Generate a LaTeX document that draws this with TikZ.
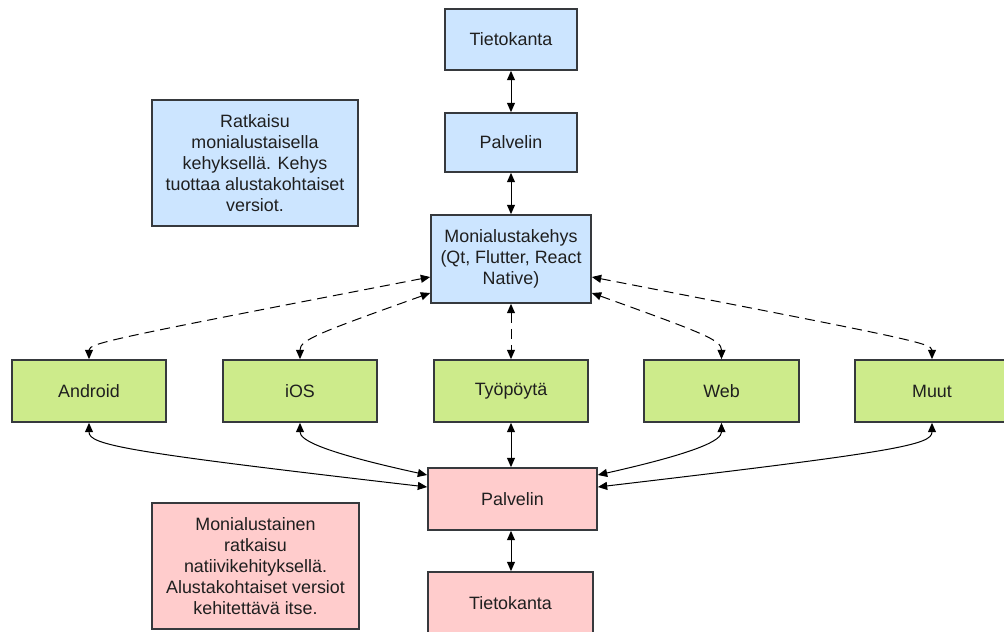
\documentclass[tikz,border=0pt]{standalone}
\usepackage{fontspec}
\setmainfont{Liberation Sans}
\usetikzlibrary{arrows.meta}
\definecolor{bluefill}{HTML}{CCE5FF}
\definecolor{greenfill}{HTML}{CDEB8B}
\definecolor{pinkfill}{HTML}{FFCCCC}
\definecolor{edgegray}{HTML}{36393D}
\begin{document}
\begin{tikzpicture}[x=0.75pt,y=-0.75pt,
  box/.style={draw=edgegray, line width=1.3pt, align=center, inner sep=2pt,
    font=\fontsize{13.4}{15.75}\selectfont, text=black!88},
  bluebox/.style={box, fill=bluefill},
  greenbox/.style={box, fill=greenfill, minimum width=116pt, minimum height=46.5pt},
  pinkbox/.style={box, fill=pinkfill},
  conn/.style={line width=0.75pt, {Triangle[length=7pt,width=6pt]}-{Triangle[length=7pt,width=6pt]}},
  dconn/.style={conn, dash pattern=on 7.5pt off 4.5pt}]
\useasboundingbox (0,0) rectangle (1004,632);

% top (blue) stack
\node[bluebox, minimum width=99pt, minimum height=45.75pt] (db1) at (511,39.5) {Tietokanta};
\node[bluebox, minimum width=99pt, minimum height=44.25pt] (srv1) at (511,142.5) {Palvelin};
\node[bluebox, minimum width=120pt, minimum height=66pt] (mon) at (511,259) {Monialustakehys\\(Qt, Flutter, React\\Native)};
\node[bluebox, minimum width=154.5pt, minimum height=94.5pt] (note1) at (255,163) {Ratkaisu\\monialustaisella\\kehyksellä. Kehys\\tuottaa alustakohtaiset\\versiot.};

% platforms
\node[greenbox] (android) at (89,391) {Android};
\node[greenbox] (ios) at (300,391) {iOS};
\node[greenbox] (desk) at (511,391) {Työpöytä};
\node[greenbox] (web) at (721.5,391) {Web};
\node[greenbox] (muut) at (932,391) {Muut};

% bottom (pink) stack
\node[pinkbox, minimum width=126.75pt, minimum height=46.5pt] (srv2) at (512.5,499) {Palvelin};
\node[pinkbox, minimum width=123.75pt, minimum height=46.5pt] (db2) at (510.5,603) {Tietokanta};
\node[pinkbox, minimum width=155pt, minimum height=94.5pt] (note2) at (255.5,566) {Monialustainen\\ratkaisu\\natiivikehityksellä.\\Alustakohtaiset versiot\\kehitettävä itse.};

% top connectors
\draw[conn] (db1.south) -- (srv1.north);
\draw[conn] (srv1.south) -- (mon.north);

% dashed connectors
\draw[dconn] ([yshift=-13.5pt]mon.west) .. controls (115,338) and (89,343) .. (android.north);
\draw[dconn] ([yshift=-25.5pt]mon.west) .. controls (318,333) and (300,340) .. (ios.north);
\draw[dconn] (mon.south) -- (desk.north);
\draw[dconn] ([yshift=-25.5pt]mon.east) .. controls (703,333) and (721.5,340) .. (web.north);
\draw[dconn] ([yshift=-13.5pt]mon.east) .. controls (905,338) and (932,343) .. (muut.north);

% solid connectors
\draw[conn] ([yshift=9pt]srv2.west) .. controls (125,452) and (89,445) .. (android.south);
\draw[conn] ([yshift=18pt]srv2.west) .. controls (322,452) and (300,440) .. (ios.south);
\draw[conn] (desk.south) -- (desk.south |- srv2.north);
\draw[conn] ([yshift=18pt]srv2.east) .. controls (700,452) and (721.5,440) .. (web.south);
\draw[conn] ([yshift=9pt]srv2.east) .. controls (895,452) and (932,445) .. (muut.south);
\draw[conn] (desk.south |- srv2.south) -- (desk.south |- db2.north);
\end{tikzpicture}
\end{document}
